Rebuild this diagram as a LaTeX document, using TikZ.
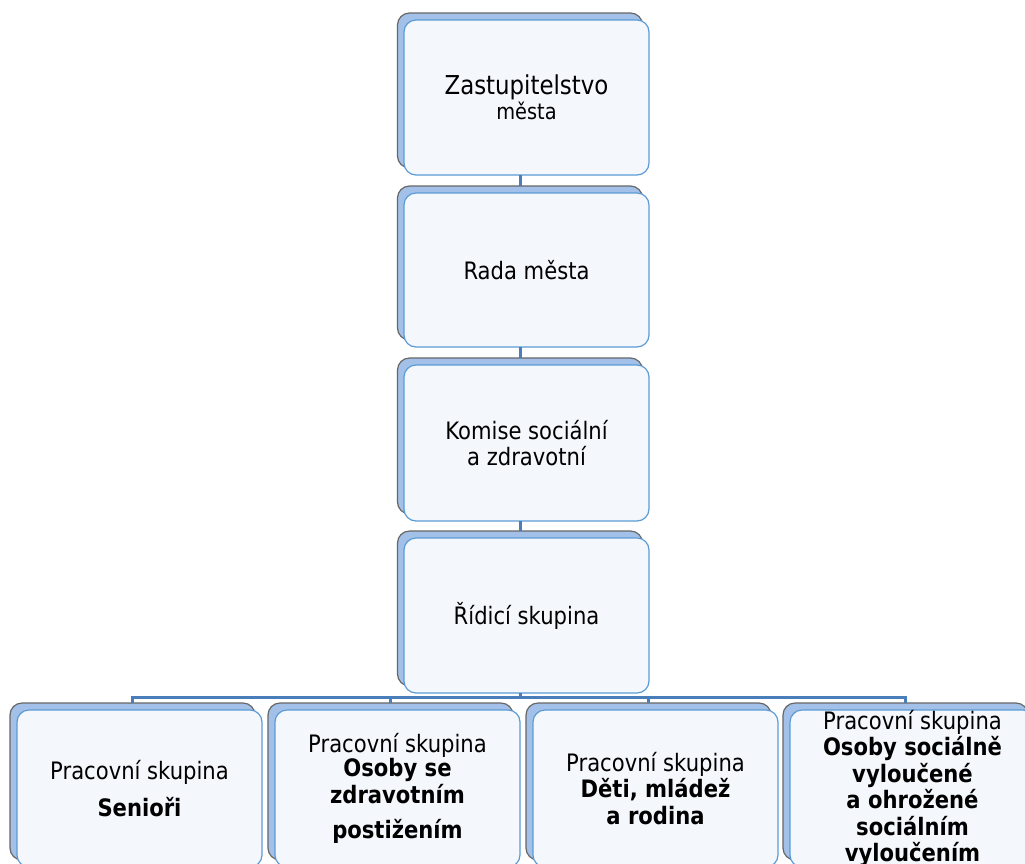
\documentclass[tikz,border=0pt]{standalone}
\usepackage{fontspec}
\setmainfont{DejaVu Sans}[FakeStretch=0.88]
\definecolor{backfill}{HTML}{A3C1E8}
\definecolor{backline}{HTML}{666666}
\definecolor{frontfill}{HTML}{F4F7FC}
\definecolor{frontline}{HTML}{5B9BD5}
\definecolor{conn}{HTML}{4A7EBB}
\tikzset{
  backbox/.style={draw=backline, fill=backfill, rounded corners=12pt, line width=1.2pt,
    minimum width=245pt, minimum height=155pt, inner sep=0pt, outer sep=0pt},
  frontbox/.style={draw=frontline, fill=frontfill, rounded corners=12pt, line width=1.2pt,
    minimum width=245pt, minimum height=155pt, inner sep=0pt, outer sep=0pt,
    align=center, font=\fontsize{24pt}{26.5pt}\selectfont},
  link/.style={draw=conn, line width=3pt}
}
\begin{document}
\begin{tikzpicture}[x=1pt,y=-1pt]
\useasboundingbox (0,0) rectangle (1025,863);
\fill[white] (0,0) rectangle (1025,863);
\clip (0,0) rectangle (1025,863);
% top chain
\node[backbox] (b1) at (520,90.5) {};
\node[frontbox] (f1) at (526.5,97.5) {\fontsize{26pt}{27pt}\selectfont Zastupitelstvo\\[-1pt]\fontsize{22pt}{27pt}\selectfont města};
\node[backbox, minimum height=154pt] (b2) at (520,263) {};
\node[frontbox, minimum height=154pt] (f2) at (526.5,270) {Rada města};
\node[backbox, minimum height=156pt] (b3) at (520,436) {};
\node[frontbox, minimum height=156pt] (f3) at (526.5,443) {Komise sociální\\a zdravotní};
\node[backbox] (b4) at (520,608.5) {};
\node[frontbox] (f4) at (526.5,615.5) {Řídicí skupina};
% bottom row
\node[backbox, minimum height=157pt] (bA) at (132.5,781.5) {};
\node[frontbox, minimum height=157pt] (fA) at (139.5,788.5) {Pracovní skupina\\[10pt]\textbf{Senioři}};
\node[backbox, minimum height=157pt] (bB) at (390.5,781.5) {};
\node[frontbox, minimum height=157pt] (fB) at (397.5,788.5) {Pracovní skupina\\[-2pt]\textbf{Osoby se}\\\textbf{zdravotním}\\[9pt]\textbf{postižením}};
\node[backbox, minimum height=157pt] (bC) at (648.5,781.5) {};
\node[frontbox, minimum height=157pt] (fC) at (655.5,788.5) {Pracovní skupina\\\textbf{Děti, mládež}\\\textbf{a rodina}};
\node[backbox, minimum height=157pt] (bD) at (905.5,781.5) {};
\node[frontbox, minimum height=157pt] (fD) at (912.5,788.5) {Pracovní skupina\\\textbf{Osoby sociálně}\\\textbf{vyloučené}\\\textbf{a ohrožené}\\\textbf{sociálním}\\\textbf{vyloučením}};
% connectors
\coordinate (bus) at (520,697);
\draw[link] (b1 |- f1.south) -- (b2.north);
\draw[link] (b2 |- f2.south) -- (b3.north);
\draw[link] (b3 |- f3.south) -- (b4.north);
\draw[link] (b4 |- f4.south) -- (bus);
\draw[link] (bA.north) -- (bA.north |- bus) -- (bD.north |- bus) -- (bD.north);
\draw[link] (bB.north) -- (bB.north |- bus);
\draw[link] (bC.north) -- (bC.north |- bus);
\end{tikzpicture}
\end{document}
